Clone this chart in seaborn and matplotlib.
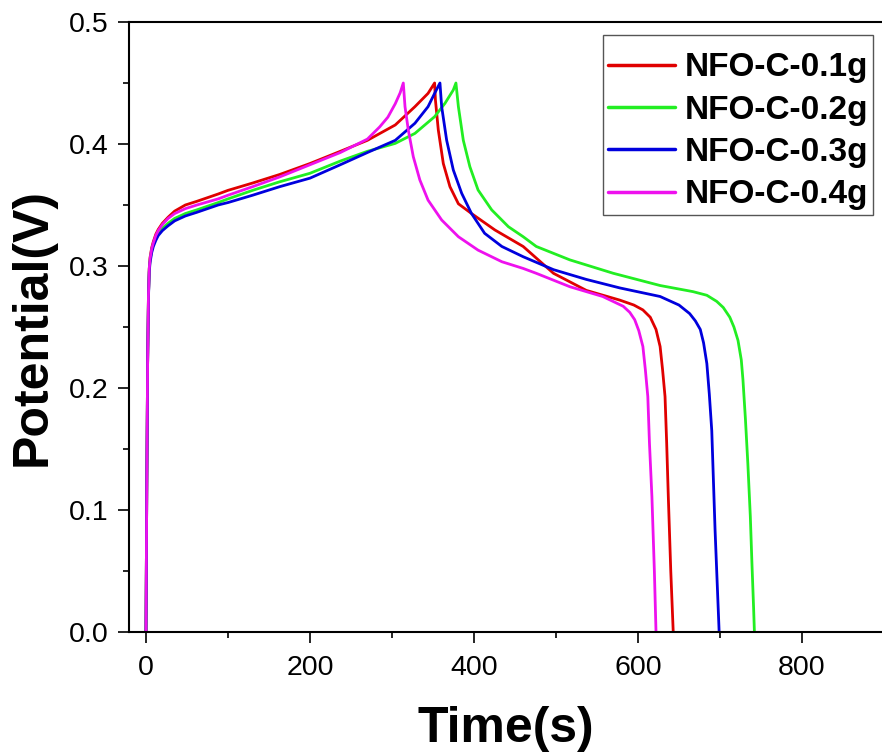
import numpy as np
import pandas as pd
import seaborn as sns
import matplotlib.pyplot as plt
from matplotlib.ticker import MultipleLocator

# charge / discharge curves, time (s) vs potential (V)
red_t = [0, 1, 2, 3, 4, 5, 7, 9, 12, 15, 20, 27, 35, 48, 62, 88, 100, 130, 163, 200, 237, 270, 304, 328, 344, 352,
         353, 356.5, 362.6, 370.7, 381, 397, 425.6, 460, 497, 537, 578, 595, 606, 615, 622, 627, 630, 633, 635, 637, 640, 643]
red_v = [0, 0.12, 0.22, 0.275, 0.298, 0.307, 0.315, 0.320, 0.326, 0.330, 0.335, 0.340, 0.345, 0.350, 0.353, 0.359, 0.362,
         0.368, 0.375, 0.384, 0.394, 0.403, 0.4156, 0.4306, 0.4415, 0.45,
         0.436, 0.4115, 0.384, 0.365, 0.351, 0.343, 0.3295, 0.316, 0.294, 0.280, 0.272, 0.268, 0.264, 0.258, 0.248,
         0.234, 0.215, 0.193, 0.155, 0.111, 0.05, 0]

green_t = [0, 1, 2, 3, 4, 5, 7, 9, 12, 15, 20, 27, 35, 48, 62, 88, 100, 130, 163, 200, 237, 270, 304, 328, 352, 364.6, 374.8, 378,
           381, 387, 395, 405, 421.6, 442, 460, 476, 517, 570, 627, 667, 684, 696, 704, 712, 717, 722, 726, 728, 731, 734, 737, 739, 741, 742]
green_v = [0, 0.12, 0.22, 0.275, 0.297, 0.305, 0.313, 0.318, 0.323, 0.327, 0.331, 0.335, 0.339, 0.343, 0.346, 0.352, 0.355,
           0.362, 0.369, 0.376, 0.386, 0.394, 0.4005, 0.4087, 0.4224, 0.4333, 0.4443, 0.45,
           0.4306, 0.403, 0.3814, 0.3623, 0.346, 0.3322, 0.324, 0.316, 0.305, 0.294, 0.284, 0.279, 0.276, 0.271, 0.266,
           0.258, 0.250, 0.239, 0.223, 0.207, 0.175, 0.138, 0.095, 0.056, 0.02, 0]

blue_t = [0, 1, 2, 3, 4, 5, 7, 9, 12, 15, 20, 27, 35, 48, 62, 88, 100, 130, 163, 200, 237, 270, 304, 328, 344, 352, 358.5,
          360.6, 366.7, 374.8, 385, 397, 413, 434, 460, 497, 537, 578, 627, 650, 663, 670, 676, 680, 684, 687, 690, 694, 699]
blue_v = [0, 0.12, 0.22, 0.273, 0.295, 0.303, 0.311, 0.316, 0.321, 0.325, 0.329, 0.333, 0.337, 0.341, 0.344, 0.350, 0.352,
          0.358, 0.365, 0.372, 0.383, 0.393, 0.403, 0.417, 0.4306, 0.4415, 0.45,
          0.4306, 0.403, 0.3787, 0.3596, 0.343, 0.3268, 0.316, 0.3076, 0.297, 0.289, 0.282, 0.275, 0.268, 0.261, 0.255,
          0.248, 0.237, 0.220, 0.195, 0.165, 0.084, 0]

magenta_t = [0, 1, 2, 3, 4, 5, 7, 9, 12, 15, 20, 27, 35, 48, 62, 88, 100, 130, 163, 200, 237, 270, 285, 295, 304, 310, 313.8,
             315.9, 319.9, 326, 334, 344, 360.6, 381, 405, 434, 460, 476, 517, 557, 582, 590, 596, 601, 606, 609, 612, 614, 617, 620, 622]
magenta_v = [0, 0.12, 0.22, 0.275, 0.298, 0.306, 0.314, 0.319, 0.325, 0.329, 0.334, 0.339, 0.343, 0.347, 0.350, 0.355, 0.358,
             0.365, 0.373, 0.383, 0.393, 0.404, 0.414, 0.422, 0.433, 0.442, 0.45,
             0.4306, 0.4115, 0.3896, 0.3705, 0.354, 0.3377, 0.324, 0.313, 0.3035, 0.298, 0.294, 0.283, 0.275, 0.267, 0.262,
             0.256, 0.247, 0.234, 0.215, 0.193, 0.155, 0.111, 0.05, 0]

labels = ['NFO-C-0.1g', 'NFO-C-0.2g', 'NFO-C-0.3g', 'NFO-C-0.4g']
colors = ['#e00000', '#22ee22', '#0000dd', '#ee11ee']

frames = []
for lab, t, v in zip(labels, [red_t, green_t, blue_t, magenta_t], [red_v, green_v, blue_v, magenta_v]):
    frames.append(pd.DataFrame({'t': t, 'v': v, 'sample': lab}))
df = pd.concat(frames, ignore_index=True)

sns.set_style('ticks')
plt.rcParams['font.family'] = ['Liberation Sans', 'DejaVu Sans']
plt.rcParams['text.color'] = 'black'
plt.rcParams['axes.labelcolor'] = 'black'
plt.rcParams['xtick.color'] = 'black'
plt.rcParams['ytick.color'] = 'black'

fig = plt.figure(figsize=(8.82, 7.55), dpi=100)
ax = fig.add_axes([129 / 882, 123 / 755, 753 / 882, 610 / 755])

sns.lineplot(data=df, x='t', y='v', hue='sample', hue_order=labels,
             palette=dict(zip(labels, colors)), sort=False, estimator=None,
             linewidth=2.0, ax=ax)

ax.set_xlim(-20.7, 897.6)
ax.set_ylim(0, 0.5)
ax.xaxis.set_major_locator(MultipleLocator(200))
ax.xaxis.set_minor_locator(MultipleLocator(100))
ax.yaxis.set_major_locator(MultipleLocator(0.1))
ax.yaxis.set_minor_locator(MultipleLocator(0.05))
ax.tick_params(which='major', direction='out', length=8, width=1.2, labelsize=20.5, color='black', labelcolor='black')
ax.tick_params(which='minor', direction='out', length=4.5, width=1.2, color='black')
ax.tick_params(axis='x', which='major', pad=8.5)
ax.tick_params(axis='y', which='major', pad=7)

for s in ['left', 'bottom', 'top']:
    ax.spines[s].set_linewidth(1.5)
    ax.spines[s].set_color('black')
ax.spines['right'].set_visible(False)

ax.set_xlabel('Time(s)', fontsize=36, fontweight='bold', labelpad=18, color='black')
ax.set_ylabel('Potential(V)', fontsize=36, fontweight='bold', labelpad=9, color='black')

# tiny blank title gives the extra padding above the first row
leg = ax.legend(loc='upper right', bbox_to_anchor=(873 / 882, 1 - 35 / 755),
                bbox_transform=fig.transFigure, borderaxespad=0,
                prop={'family': 'Liberation Sans', 'weight': 'bold', 'size': 24},
                title=' ', title_fontproperties={'size': 0.5},
                frameon=True, fancybox=False, framealpha=1, edgecolor='#555555',
                borderpad=0.15, handlelength=2.0, handletextpad=0.3, labelspacing=0.34)
leg.get_frame().set_linewidth(1.0)
for text in leg.get_texts():
    text.set_color('black')
for line in leg.get_lines():
    line.set_linewidth(2.5)

fig.savefig('out.png', dpi=100)
